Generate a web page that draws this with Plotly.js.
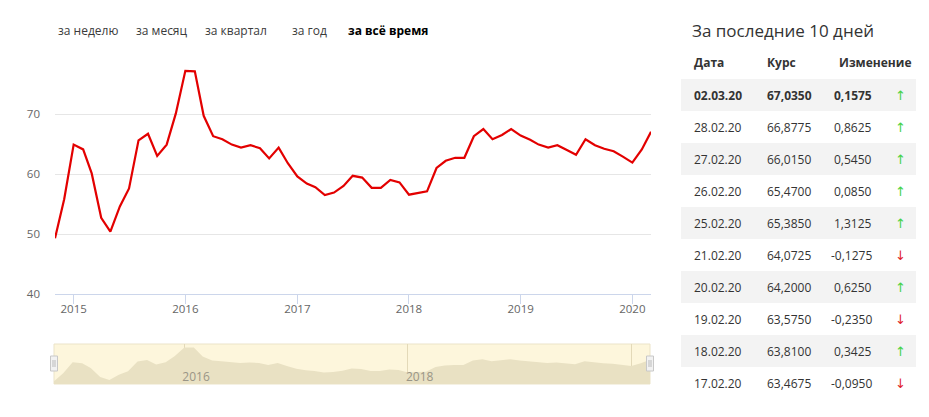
<!DOCTYPE html>
<html>
<head>
<meta charset="utf-8">
<script src="https://cdn.plot.ly/plotly-3.0.1.min.js"></script>
<style>html,body{margin:0;padding:0;background:#fff;}#chart{width:929px;height:417px;}</style>
</head>
<body>
<div id="chart"></div>
<script>
// ---- Data ----
const dates = [
  '2014-11-01','2014-12-01',
  '2015-01-01','2015-02-01','2015-03-01','2015-04-01','2015-05-01','2015-06-01','2015-07-01','2015-08-01','2015-09-01','2015-10-01','2015-11-01','2015-12-01',
  '2016-01-01','2016-02-01','2016-03-01','2016-04-01','2016-05-01','2016-06-01','2016-07-01','2016-08-01','2016-09-01','2016-10-01','2016-11-01','2016-12-01',
  '2017-01-01','2017-02-01','2017-03-01','2017-04-01','2017-05-01','2017-06-01','2017-07-01','2017-08-01','2017-09-01','2017-10-01','2017-11-01','2017-12-01',
  '2018-01-01','2018-02-01','2018-03-01','2018-04-01','2018-05-01','2018-06-01','2018-07-01','2018-08-01','2018-09-01','2018-10-01','2018-11-01','2018-12-01',
  '2019-01-01','2019-02-01','2019-03-01','2019-04-01','2019-05-01','2019-06-01','2019-07-01','2019-08-01','2019-09-01','2019-10-01','2019-11-01','2019-12-01',
  '2020-01-01','2020-02-01','2020-03-02'
];
const rates = [
  49.3, 55.8,
  64.9, 64.1, 60.1, 52.7, 50.4, 54.6, 57.6, 65.6, 66.7, 63.0, 64.9, 70.1,
  77.2, 77.1, 69.7, 66.3, 65.8, 64.9, 64.4, 64.8, 64.3, 62.6, 64.4, 61.8,
  59.6, 58.4, 57.8, 56.5, 56.9, 58.0, 59.7, 59.4, 57.7, 57.7, 59.0, 58.6,
  56.55, 56.9, 57.1, 61.0, 62.2, 62.7, 62.7, 66.3, 67.5, 65.8, 66.5, 67.5,
  66.4, 65.7, 64.9, 64.4, 64.8, 64.0, 63.2, 65.8, 64.8, 64.2, 63.8, 62.9,
  61.9, 64.1, 67.035
];
const yTickVals = [40, 50, 60, 70, 80];
const yTickText = ['40', '50', '60', '70', ''];
const xTickVals = ['2015-01-01','2016-01-01','2017-01-01','2018-01-01','2019-01-01','2020-01-01'];
const xTickText = ['2015','2016','2017','2018','2019','2020'];
const navTickVals = ['2016-01-01','2018-01-01','2020-01-01'];
const navTickText = ['2016','2018',''];

const periodTabs = ['за неделю','за месяц','за квартал','за год','за всё время'];
const activeTab = 'за всё время';

const tableTitle = 'За последние 10 дней';
const tableHeaders = ['Дата','Курс','Изменение'];
const tableDates = ['02.03.20','28.02.20','27.02.20','26.02.20','25.02.20','21.02.20','20.02.20','19.02.20','18.02.20','17.02.20'];
const tableRates = ['67,0350','66,8775','66,0150','65,4700','65,3850','64,0725','64,2000','63,5750','63,8100','63,4675'];
const tableChanges = ['0,1575','0,8625','0,5450','0,0850','1,3125','-0,1275','0,6250','-0,2350','0,3425','-0,0950'];

// ---- Layout helpers (pixel -> paper) ----
const W = 929, H = 417;
const px = x => x / W;
const py = y => 1 - y / H;
const FONT = '"Open Sans", "DejaVu Sans", sans-serif';

const annotations = [];
const shapes = [];

// Period tabs
const tabX = [56, 134, 203, 290, 346];
periodTabs.forEach((t, i) => {
  const active = t === activeTab;
  annotations.push({
    xref: 'paper', yref: 'paper', x: px(tabX[i]), y: py(30.5),
    xanchor: 'left', yanchor: 'middle', showarrow: false,
    text: active ? '<b>' + t + '</b>' : t,
    font: {family: FONT, size: 12, color: active ? '#000' : '#3a3a3a'}
  });
});

// Table title
annotations.push({
  xref: 'paper', yref: 'paper', x: px(690), y: py(31),
  xanchor: 'left', yanchor: 'middle', showarrow: false,
  text: tableTitle, font: {family: FONT, size: 17, color: '#333'}
});
// Table headers
const colX = [692, 765, 837];
tableHeaders.forEach((h, i) => {
  annotations.push({
    xref: 'paper', yref: 'paper', x: px(colX[i]), y: py(62.5),
    xanchor: 'left', yanchor: 'middle', showarrow: false,
    text: '<b>' + h + '</b>', font: {family: FONT, size: 12, color: '#333'}
  });
});
// Table rows
const rowTop = 79, rowH = 32;
tableDates.forEach((d, i) => {
  const yc = rowTop + rowH * i + rowH / 2;
  if (i % 2 === 0) {
    shapes.push({type: 'rect', xref: 'paper', yref: 'paper', layer: 'below',
      x0: px(681), x1: px(916), y0: py(rowTop + rowH * i), y1: py(rowTop + rowH * (i + 1)),
      fillcolor: '#f3f3f3', line: {width: 0}});
  }
  const b = s => (i === 0 ? '<b>' + s + '</b>' : s);
  const f = {family: FONT, size: 12, color: '#333'};
  annotations.push({xref: 'paper', yref: 'paper', x: px(692), y: py(yc), xanchor: 'left', yanchor: 'middle',
    showarrow: false, text: b(d), font: f});
  annotations.push({xref: 'paper', yref: 'paper', x: px(765), y: py(yc), xanchor: 'left', yanchor: 'middle',
    showarrow: false, text: b(tableRates[i]), font: f});
  annotations.push({xref: 'paper', yref: 'paper', x: px(874), y: py(yc), xanchor: 'right', yanchor: 'middle',
    showarrow: false, text: b(tableChanges[i]), font: f});
  const up = tableChanges[i].charAt(0) !== '-';
  annotations.push({xref: 'paper', yref: 'paper', x: px(900), y: py(yc), xanchor: 'center', yanchor: 'middle',
    showarrow: false, text: up ? '↑' : '↓',
    font: {family: FONT, size: 13, color: up ? '#46d246' : '#e0222b'}});
});

// Navigator background & handles
shapes.push({type: 'rect', xref: 'x2 domain', yref: 'y2 domain', layer: 'below',
  x0: 0, x1: 1, y0: 0, y1: 1, fillcolor: '#fdf6dc', line: {color: '#ebe3c8', width: 1}});
[54, 650].forEach(cx => {
  shapes.push({type: 'rect', xref: 'paper', yref: 'paper', layer: 'above',
    x0: px(cx - 3.5), x1: px(cx + 3.5), y0: py(371), y1: py(356),
    fillcolor: '#f2f2f2', line: {color: '#c8c8c8', width: 1}});
  [-1, 1].forEach(dx => shapes.push({type: 'line', xref: 'paper', yref: 'paper', layer: 'above',
    x0: px(cx + dx), x1: px(cx + dx), y0: py(367), y1: py(360), line: {color: '#bbb', width: 1}}));
});

const traces = [
  {x: dates, y: rates, type: 'scatter', mode: 'lines', xaxis: 'x', yaxis: 'y',
   line: {color: '#e30000', width: 2.2}, hoverinfo: 'skip'},
  {x: dates, y: rates, type: 'scatter', mode: 'lines', xaxis: 'x2', yaxis: 'y2',
   fill: 'tozeroy', fillcolor: '#e9e1c3', line: {width: 0, color: '#e9e1c3'}, hoverinfo: 'skip'}
];

const layout = {
  width: W, height: H,
  margin: {l: 0, r: 0, t: 0, b: 0},
  paper_bgcolor: '#fff', plot_bgcolor: 'rgba(0,0,0,0)',
  showlegend: false,
  font: {family: FONT, color: '#333'},
  xaxis: {
    type: 'date', domain: [px(55), px(651)], anchor: 'y',
    range: ['2014-11-01', '2020-03-02'],
    tickvals: xTickVals, ticktext: xTickText,
    showgrid: false, zeroline: false,
    showline: true, linecolor: '#ccd6eb', linewidth: 1,
    ticks: 'outside', ticklen: 9, tickcolor: '#ccd6eb',
    ticklabelstandoff: -5,
    tickfont: {family: FONT, size: 11.5, color: '#666'}
  },
  yaxis: {
    domain: [py(294), py(54)], anchor: 'x',
    range: [40, 80], tickvals: yTickVals, ticktext: yTickText,
    showgrid: true, gridcolor: '#e6e6e6', gridwidth: 1,
    zeroline: false, showline: false, ticks: '',
    ticklabelstandoff: 14,
    tickfont: {family: FONT, size: 11.5, color: '#666'}
  },
  xaxis2: {
    type: 'date', domain: [px(54), px(650)], anchor: 'y2',
    range: ['2014-11-01', '2020-03-02'],
    tickvals: navTickVals, ticktext: navTickText,
    showgrid: true, gridcolor: '#e3d9b8', gridwidth: 1,
    zeroline: false, showline: false, ticks: '',
    ticklabelposition: 'inside right',
    ticklabelstandoff: -5, ticklabelshift: -2,
    tickfont: {family: FONT, size: 12, color: '#9a9586'}
  },
  yaxis2: {
    domain: [py(384), py(344)], anchor: 'x2',
    range: [47, 80], showgrid: false, zeroline: false,
    showticklabels: false, showline: false, ticks: ''
  },
  annotations: annotations,
  shapes: shapes
};

Plotly.newPlot('chart', traces, layout, {displayModeBar: false, staticPlot: true});
</script>
</body>
</html>
